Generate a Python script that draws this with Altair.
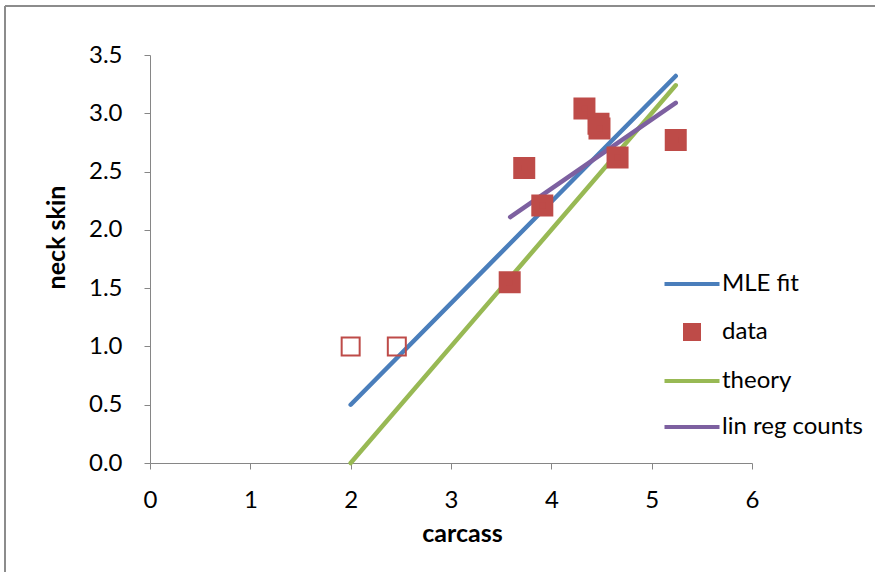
import altair as alt
import pandas as pd

# ---- data ----
series_names = ["MLE fit", "data", "theory", "lin reg counts"]
series_colors = ["#4A7EBB", "#BE4B48", "#98B954", "#7D60A0"]

mle_x = [2.0, 5.24]
mle_y = [0.50, 3.32]
theory_x = [2.0, 5.24]
theory_y = [0.0, 3.24]
linreg_x = [3.59, 5.24]
linreg_y = [2.11, 3.09]

data_x = [3.585, 3.73, 3.91, 4.33, 4.47, 4.48, 4.66, 5.24]
data_y = [1.55, 2.53, 2.21, 3.04, 2.91, 2.87, 2.62, 2.77]

open_x = [2.0, 2.46]
open_y = [1.0, 1.0]

x_ticks = [0, 1, 2, 3, 4, 5, 6]
y_ticks = [0.0, 0.5, 1.0, 1.5, 2.0, 2.5, 3.0, 3.5]

# ---- tables ----
lines_df = pd.concat([
    pd.DataFrame({"series": "MLE fit", "x": mle_x, "y": mle_y}),
    pd.DataFrame({"series": "theory", "x": theory_x, "y": theory_y}),
    pd.DataFrame({"series": "lin reg counts", "x": linreg_x, "y": linreg_y}),
], ignore_index=True)
data_df = pd.DataFrame({"series": "data", "x": data_x, "y": data_y})
open_df = pd.DataFrame({"series": "data", "x": open_x, "y": open_y})

W, H = 602, 408
PAD = {"left": 150, "top": 55, "right": 123, "bottom": 109}

color_scale = alt.Scale(domain=series_names, range=series_colors)
LINE_GLYPH = "M-2.5,0H2.5"   # wide horizontal stroke used as legend glyph

x_enc = alt.X("x:Q", scale=alt.Scale(domain=[0, 6], nice=False, zero=False),
              axis=alt.Axis(values=x_ticks, format="d", title="carcass",
                            titleX=312, titleY=70, titleBaseline="middle",
                            tickSize=6, labelPadding=19, labelFlush=False))
y_enc = alt.Y("y:Q", scale=alt.Scale(domain=[0, 3.5], nice=False),
              axis=alt.Axis(values=y_ticks, format=".1f", title="neck skin",
                            titleX=-94, titleY=182, titleAngle=-90,
                            titleAlign="center", titleBaseline="middle",
                            tickSize=6, labelPadding=22, labelFlush=False))

legend = alt.Legend(
    title=None, orient="none", legendX=529, legendY=216,
    labelFont="Lato", labelFontSize=24, labelColor="black",
    labelOffset=17, rowPadding=21, symbolOpacity=1, symbolStrokeWidth=4,
)

lines = alt.Chart(lines_df).mark_line(strokeWidth=4.5, strokeCap="round").encode(
    x=x_enc, y=y_enc,
    stroke=alt.Stroke("series:N", scale=color_scale, legend=legend),
    detail="series:N",
)

points = alt.Chart(data_df).mark_point(filled=True, strokeWidth=8, opacity=1).encode(
    x=x_enc, y=y_enc,
    fill=alt.Fill("series:N", scale=color_scale, legend=legend),
    stroke=alt.Stroke("series:N", scale=color_scale, legend=legend),
    shape=alt.Shape("series:N", scale=alt.Scale(domain=series_names,
                    range=[LINE_GLYPH, "square", LINE_GLYPH, LINE_GLYPH]), legend=legend),
    size=alt.Size("series:N", scale=alt.Scale(type="ordinal", domain=series_names,
                  range=[484, 196, 484, 484]), legend=legend),
)

open_pts = alt.Chart(open_df).mark_point(shape="square", filled=False, size=324,
                                         strokeWidth=2, color="#BE4B48", opacity=1).encode(
    x=x_enc, y=y_enc,
)

frame_df = pd.DataFrame({"k": [0]})
top_border = alt.Chart(frame_df).mark_rule(color="#8C8C8C", strokeWidth=2).encode(
    x=alt.value(-145), x2=alt.value(730), y=alt.value(-49))
left_border = alt.Chart(frame_df).mark_rule(color="#8C8C8C", strokeWidth=2).encode(
    x=alt.value(-145), y=alt.value(-49), y2=alt.value(517))

chart = alt.layer(top_border, left_border, lines, open_pts, points).properties(
    width=W, height=H, padding=PAD,
    autosize=alt.AutoSizeParams(type="none", contains="content"),
    background="white",
).configure_view(stroke=None).configure_axis(
    grid=False, domainColor="#868686", tickColor="#868686",
    labelFont="Lato", labelFontSize=24, labelColor="black",
    titleFont="Lato", titleFontSize=25, titleFontWeight="bold", titleColor="black",
)

chart.save("out.html", embed_options={"renderer": "svg", "actions": False})
